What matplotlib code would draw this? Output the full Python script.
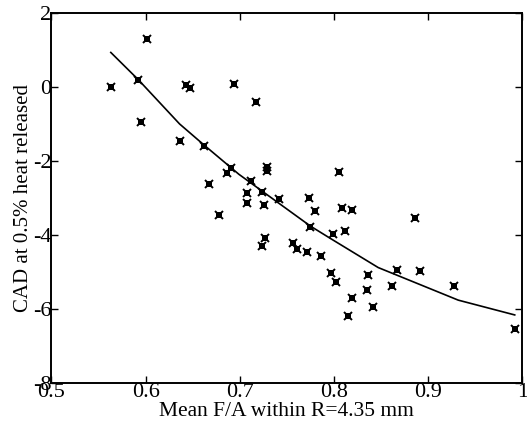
import matplotlib
matplotlib.use("Agg")
import matplotlib.pyplot as plt

# Measured data points (Mean F/A, CAD at 0.5% heat released)
fa = [0.563, 0.592, 0.595, 0.601, 0.636, 0.643, 0.647, 0.662, 0.667, 0.678,
      0.686, 0.691, 0.694, 0.708, 0.708, 0.712, 0.717, 0.724, 0.724, 0.726,
      0.727, 0.729, 0.729, 0.742, 0.757, 0.761, 0.771, 0.774, 0.775, 0.780,
      0.786, 0.797, 0.799, 0.802, 0.805, 0.809, 0.812, 0.815, 0.819, 0.819,
      0.835, 0.836, 0.842, 0.862, 0.867, 0.886, 0.891, 0.927, 0.992]
cad = [0.01, 0.19, -0.96, 1.29, -1.46, 0.05, -0.02, -1.59, -2.63, -3.46,
       -2.32, -2.20, 0.08, -2.87, -3.14, -2.55, -0.41, -2.85, -4.29, -3.19,
       -4.09, -2.17, -2.27, -3.02, -4.21, -4.37, -4.47, -2.99, -3.78, -3.35,
       -4.56, -5.04, -3.98, -5.28, -2.30, -3.27, -3.89, -6.20, -3.32, -5.71,
       -5.49, -5.07, -5.95, -5.38, -4.95, -3.55, -4.98, -5.37, -6.55]

# Fitted curve
fit_x = [0.563, 0.592, 0.636, 0.662, 0.699, 0.775, 0.796, 0.847, 0.932, 0.992]
fit_y = [0.93, 0.20, -1.00, -1.57, -2.36, -3.76, -4.09, -4.88, -5.76, -6.16]

xticks = [0.5, 0.6, 0.7, 0.8, 0.9, 1.0]
xtick_labels = ["0.5", "0.6", "0.7", "0.8", "0.9", "1"]
yticks = [-8, -6, -4, -2, 0, 2]
ytick_labels = ["-8", "-6", "-4", "-2", "0", "2"]

plt.rcParams['font.family'] = ['Liberation Serif', 'DejaVu Serif']

fig = plt.figure(figsize=(5.27, 4.28), dpi=100)
ax = fig.add_axes([0.0977, 0.105, 0.8933, 0.865])

ax.plot(fit_x, fit_y, color='black', lw=1.2)
ax.plot(fa, cad, linestyle='none', marker='s', ms=4.2, color='black', mew=0)
ax.plot(fa, cad, linestyle='none', marker='x', ms=5.5, color='black', mew=1.4)

ax.set_xlim(0.5, 1.0)
ax.set_ylim(-8, 2)
ax.set_xticks(xticks)
ax.set_xticklabels(xtick_labels)
ax.set_yticks(yticks)
ax.set_yticklabels(ytick_labels)
ax.tick_params(direction='in', length=5, width=1.0, top=True, right=True,
               labelsize=16, pad=0)
for s in ax.spines.values():
    s.set_linewidth(1.4)

ax.set_xlabel("Mean F/A within R=4.35 mm", fontsize=15.5, labelpad=0)
ax.set_ylabel("CAD at 0.5% heat released", fontsize=15, labelpad=0)

fig.savefig("out.png", dpi=100)
